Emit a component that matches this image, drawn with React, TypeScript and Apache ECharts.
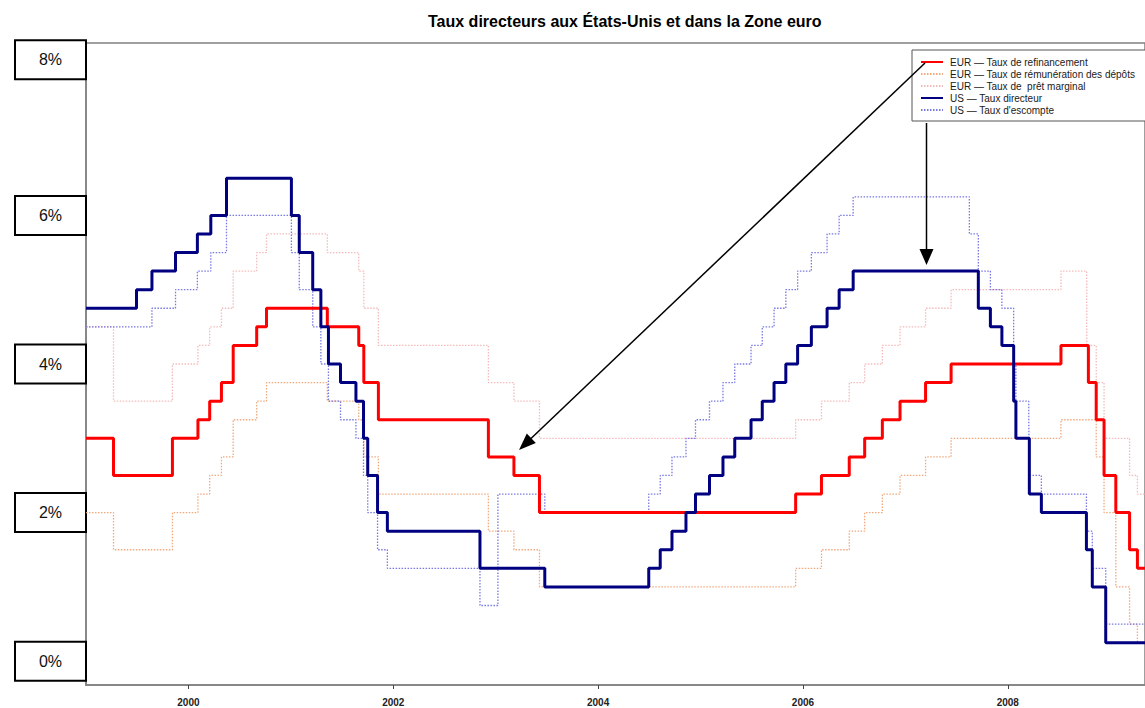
import React, { useEffect, useRef } from "react";
import * as echarts from "echarts";

const titleText = "Taux directeurs aux États-Unis et dans la Zone euro";

const seriesNames = [
  "EUR — Taux de refinancement",
  "EUR — Taux de rémunération des dépôts",
  "EUR — Taux de  prêt marginal",
  "US — Taux directeur",
  "US — Taux d'escompte",
];

const xTickLabels = ["2000", "2002", "2004", "2006", "2008"];
const yTickLabels = ["0%", "2%", "4%", "6%", "8%"];

const ecbDates = [
  "1999-01-01", "1999-04-09", "1999-11-05", "2000-02-04", "2000-03-17", "2000-04-28",
  "2000-06-09", "2000-09-01", "2000-10-06", "2001-05-11", "2001-08-31", "2001-09-18",
  "2001-11-09", "2002-12-06", "2003-03-07", "2003-06-06", "2005-12-06", "2006-03-08",
  "2006-06-15", "2006-08-09", "2006-10-11", "2006-12-13", "2007-03-14", "2007-06-13",
  "2008-07-09", "2008-10-09", "2008-10-15", "2008-11-12", "2008-12-10", "2009-01-21",
  "2009-03-11", "2009-04-08", "2009-05-13",
];
const ecbRefi = [
  3.0, 2.5, 3.0, 3.25, 3.5, 3.75, 4.25, 4.5, 4.75, 4.5, 4.25, 3.75, 3.25, 2.75, 2.5, 2.0,
  2.25, 2.5, 2.75, 3.0, 3.25, 3.5, 3.75, 4.0, 4.25, 4.25, 3.75, 3.25, 2.5, 2.0, 1.5, 1.25, 1.0,
];
const ecbDeposit = [
  2.0, 1.5, 2.0, 2.25, 2.5, 2.75, 3.25, 3.5, 3.75, 3.5, 3.25, 2.75, 2.25, 1.75, 1.5, 1.0,
  1.25, 1.5, 1.75, 2.0, 2.25, 2.5, 2.75, 3.0, 3.25, 3.25, 3.25, 2.75, 2.0, 1.0, 0.5, 0.25, 0.25,
];
const ecbMarginal = [
  4.5, 3.5, 4.0, 4.25, 4.5, 4.75, 5.25, 5.5, 5.75, 5.5, 5.25, 4.75, 4.25, 3.75, 3.5, 3.0,
  3.25, 3.5, 3.75, 4.0, 4.25, 4.5, 4.75, 5.0, 5.25, 4.25, 4.25, 3.75, 3.0, 3.0, 2.5, 2.25, 1.75,
];

const usDates = [
  "1999-01-01", "1999-06-30", "1999-08-24", "1999-11-16", "2000-02-02", "2000-03-21",
  "2000-05-16", "2001-01-03", "2001-01-31", "2001-03-20", "2001-04-18", "2001-05-15",
  "2001-06-27", "2001-08-21", "2001-09-17", "2001-10-02", "2001-11-06", "2001-12-11",
  "2002-11-06", "2003-06-25", "2004-06-30", "2004-08-10", "2004-09-21", "2004-11-10",
  "2004-12-14", "2005-02-02", "2005-03-22", "2005-05-03", "2005-06-30", "2005-08-09",
  "2005-09-20", "2005-11-01", "2005-12-13", "2006-01-31", "2006-03-28", "2006-05-10",
  "2006-06-29", "2007-09-18", "2007-10-31", "2007-12-11", "2008-01-22", "2008-01-30",
  "2008-03-18", "2008-04-30", "2008-10-08", "2008-10-29", "2008-12-16",
];
const usFunds = [
  4.75, 5.0, 5.25, 5.5, 5.75, 6.0, 6.5, 6.0, 5.5, 5.0, 4.5, 4.0, 3.75, 3.5, 3.0, 2.5, 2.0,
  1.75, 1.25, 1.0, 1.25, 1.5, 1.75, 2.0, 2.25, 2.5, 2.75, 3.0, 3.25, 3.5, 3.75, 4.0, 4.25,
  4.5, 4.75, 5.0, 5.25, 4.75, 4.5, 4.25, 3.5, 3.0, 2.25, 2.0, 1.5, 1.0, 0.25,
];

const discDates = [
  "1999-01-01", "1999-08-24", "1999-11-16", "2000-02-02", "2000-03-21", "2000-05-16",
  "2001-01-03", "2001-01-31", "2001-03-20", "2001-04-18", "2001-05-15", "2001-06-27",
  "2001-08-21", "2001-09-17", "2001-10-02", "2001-11-06", "2001-12-11", "2002-11-06",
  "2003-01-09", "2003-06-25", "2004-06-30", "2004-08-10", "2004-09-21", "2004-11-10",
  "2004-12-14", "2005-02-02", "2005-03-22", "2005-05-03", "2005-06-30", "2005-08-09",
  "2005-09-20", "2005-11-01", "2005-12-13", "2006-01-31", "2006-03-28", "2006-05-10",
  "2006-06-29", "2007-08-17", "2007-09-18", "2007-10-31", "2007-12-11", "2008-01-22",
  "2008-01-30", "2008-03-16", "2008-03-18", "2008-04-30", "2008-10-08", "2008-10-29",
  "2008-12-16",
];
const discRate = [
  4.5, 4.75, 5.0, 5.25, 5.5, 6.0, 5.5, 5.0, 4.5, 4.0, 3.5, 3.25, 3.0, 2.5, 2.0, 1.5, 1.25,
  0.75, 2.25, 2.0, 2.25, 2.5, 2.75, 3.0, 3.25, 3.5, 3.75, 4.0, 4.25, 4.5, 4.75, 5.0, 5.25,
  5.5, 5.75, 6.0, 6.25, 5.75, 5.25, 5.0, 4.75, 4.0, 3.5, 3.25, 2.5, 2.25, 1.75, 1.25, 0.5,
];

const seriesEnd = "2009-06-30";
const xMin = "1999-01-01";
const xMax = "2009-05-05";

const FONT = "'Liberation Sans', Arial, sans-serif";

// date string -> fractional year (UTC)
function toYear(s: string) {
  const [y, m, d] = s.split("-").map(Number);
  const start = Date.UTC(y, 0, 1);
  const end = Date.UTC(y + 1, 0, 1);
  return y + (Date.UTC(y, m - 1, d) - start) / (end - start);
}

function stepData(dates: string[], vals: number[]) {
  const d: number[][] = dates.map((t, i) => [toYear(t), vals[i]]);
  d.push([toYear(seriesEnd), vals[vals.length - 1]]);
  return d;
}

export default function App() {
  const ref = useRef<HTMLDivElement>(null);
  useEffect(() => {
    document.body.style.margin = "0";
    if (!ref.current) return;
    const chart = echarts.init(ref.current, undefined, { renderer: "svg" });
    const xTickValues = xTickLabels.map((y) => Number(y));
    const yTickValues = yTickLabels.map((s) => parseFloat(s));
    const yTop = yTickValues[yTickValues.length - 1];

    const mk = (name: string, data: number[][], color: string, width: number, dotted: boolean, z: number, opacity = 1) => ({
      name,
      type: "line",
      step: "end",
      symbol: "none",
      data,
      z,
      lineStyle: { color, width, type: dotted ? [1.5, 1.5] : "solid", opacity },
      itemStyle: { color },
      emphasis: { disabled: true },
    });

    const option: any = {
      animation: false,
      backgroundColor: "#ffffff",
      title: {
        text: titleText,
        left: 423,
        top: 8,
        textStyle: { fontSize: 16, fontWeight: "bold", color: "#000", fontFamily: FONT },
      },
      grid: {
        left: 86,
        right: -3,
        top: 43,
        bottom: 23,
        show: true,
        borderColor: "#808080",
        borderWidth: 1.5,
      },
      legend: {
        orient: "vertical",
        left: 912,
        top: 50,
        padding: [7, 40, 6, 8],
        itemGap: 2,
        itemWidth: 22,
        itemHeight: 10,
        backgroundColor: "#ffffff",
        borderColor: "#555",
        borderWidth: 1,
        data: seriesNames,
        itemStyle: { opacity: 0 },
        textStyle: { fontSize: 10, color: "#1a1a1a", fontFamily: FONT, padding: [0, 0, 0, 2] },
      },
      xAxis: {
        type: "value",
        min: toYear(xMin),
        max: toYear(xMax),
        axisLine: { show: true, onZero: false, lineStyle: { color: "#808080", width: 1.5 } },
        axisTick: { show: true, customValues: xTickValues, length: 4, lineStyle: { color: "#444" } },
        axisLabel: {
          customValues: xTickValues,
          formatter: (v: number) => String(Math.round(v)),
          fontSize: 10,
          fontWeight: "bold",
          color: "#222",
          fontFamily: FONT,
          margin: 12,
        },
        splitLine: { show: false },
      },
      yAxis: {
        type: "value",
        min: -0.32,
        max: 8.32,
        axisLine: { show: true, onZero: false, lineStyle: { color: "#808080", width: 1.5 } },
        axisTick: { show: true, customValues: yTickValues, length: 3, lineStyle: { color: "#444" } },
        axisLabel: {
          customValues: yTickValues,
          formatter: (v: number) => (v === yTop ? `{b|${v}%}\n{sp| }` : `{b|${v}%}`),
          margin: 1,
          rich: {
            b: {
              width: 69,
              height: 37,
              lineHeight: 37,
              align: "center",
              verticalAlign: "middle",
              backgroundColor: "#ffffff",
              borderColor: "#000000",
              borderWidth: 2,
              fontSize: 16,
              color: "#111",
              fontFamily: FONT,
            },
            sp: { height: 14, lineHeight: 14, fontSize: 10 },
          },
        },
        splitLine: { show: false },
      },
      series: [
        mk(seriesNames[0], stepData(ecbDates, ecbRefi), "#ff0000", 3, false, 5),
        mk(seriesNames[1], stepData(ecbDates, ecbDeposit), "#f0a070", 1.3, true, 2, 0.9),
        mk(seriesNames[2], stepData(ecbDates, ecbMarginal), "#f4b4b4", 1.3, true, 2, 0.9),
        mk(seriesNames[3], stepData(usDates, usFunds), "#000080", 3, false, 6),
        mk(seriesNames[4], stepData(discDates, discRate), "#6a6ae0", 1.3, true, 3, 0.9),
      ],
      graphic: [
        { type: "line", z: 100, shape: { x1: 925, y1: 63, x2: 531, y2: 438.5 }, style: { stroke: "#000", lineWidth: 1.5 } },
        { type: "polygon", z: 100, shape: { points: [[519, 450], [535.8, 443], [526.8, 433.6]] }, style: { fill: "#000" } },
        { type: "line", z: 100, shape: { x1: 926.5, y1: 123, x2: 926.5, y2: 250 }, style: { stroke: "#000", lineWidth: 1.5 } },
        { type: "polygon", z: 100, shape: { points: [[926.5, 265], [919.5, 249], [933.5, 249]] }, style: { fill: "#000" } },
      ],
    };
    chart.setOption(option);
    return () => chart.dispose();
  }, []);
  return <div ref={ref} style={{ width: 1145, height: 708 }} />;
}
